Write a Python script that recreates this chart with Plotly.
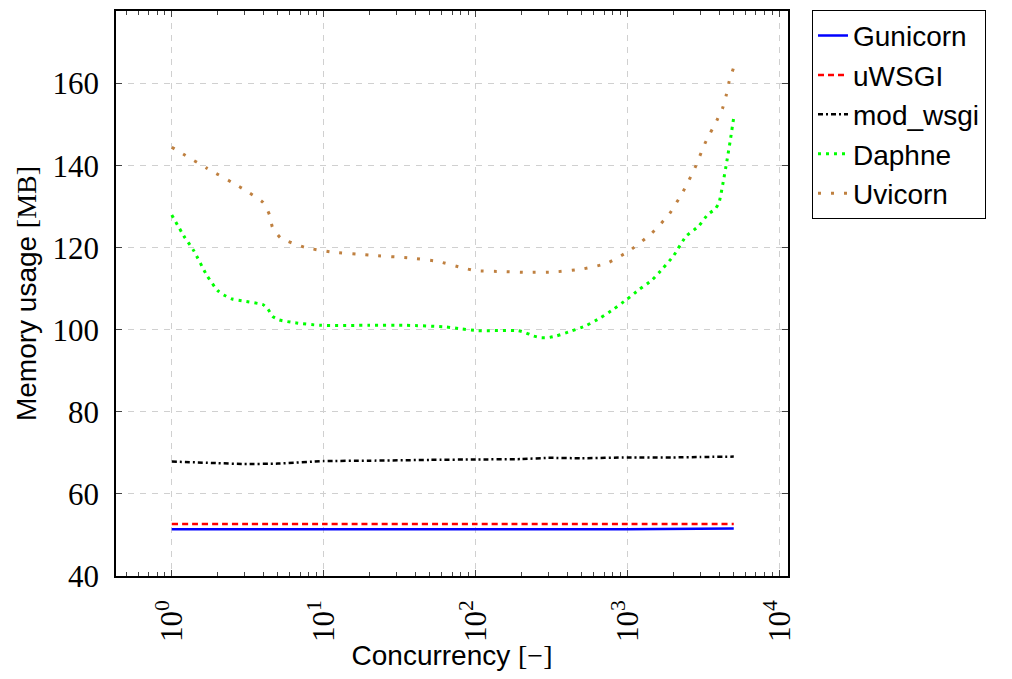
import plotly.graph_objects as go

# ---- data ----
gunicorn_x = [1, 10, 100, 1000, 5000]
gunicorn_y = [51.4, 51.4, 51.4, 51.4, 51.6]

uwsgi_x = [1, 10, 100, 1000, 5000]
uwsgi_y = [52.7, 52.7, 52.7, 52.7, 52.7]

modwsgi_x = [1, 2, 3, 5, 10, 20, 50, 100, 200, 300, 500, 1000, 2000, 3000, 5000]
modwsgi_y = [67.9, 67.5, 67.3, 67.4, 68.0, 68.1, 68.3, 68.4, 68.5, 68.8, 68.7, 68.9, 68.9, 69.0, 69.1]

daphne_x = [1, 1.2, 1.4, 1.7, 2, 2.2, 2.5, 3, 4, 4.3, 4.6, 5.1, 6.5, 9.4, 20, 35, 64, 81,
            103, 190, 213, 240, 268, 300, 340, 427, 533, 661, 807, 988, 1190, 1446, 1700,
            1995, 2427, 2925, 3390, 3750, 4000, 4250, 4500, 4750, 5000]
daphne_y = [128.0, 122.9, 119.2, 113.3, 109.6, 108.5, 107.5, 107.0, 106.1, 105.0, 103.3, 102.4,
            101.7, 101.1, 101.1, 101.1, 100.7, 100.2, 99.8, 99.8, 99.3, 98.5, 98.1, 98.1, 98.5,
            99.7, 101.0, 102.9, 105.0, 107.4, 109.8, 112.1, 114.9, 117.9, 122.8, 125.2, 128.2,
            129.3, 131.0, 135.8, 141.0, 146.3, 151.8]

uvicorn_x = [1, 1.7, 2.9, 4, 4.4, 4.6, 5.2, 7.5, 11, 20, 37, 56, 82, 100, 150, 220, 330, 500,
             730, 1040, 1430, 1880, 2320, 2780, 3240, 3890, 4230, 4470, 4660, 5000]
uvicorn_y = [144.5, 139.4, 134.5, 131.0, 128.0, 125.0, 122.4, 120.1, 119.0, 118.2, 117.5, 116.7,
             115.1, 114.4, 114.2, 114.0, 114.1, 114.8, 116.2, 119.4, 123.4, 128.2, 133.7, 139.5,
             145.5, 151.2, 154.1, 157.3, 160.5, 164.0]

x_tickvals = [1, 10, 100, 1000, 10000]
x_ticktext = ["10<sup>0</sup>", "10<sup>1</sup>", "10<sup>2</sup>", "10<sup>3</sup>", "10<sup>4</sup>"]
y_tickvals = [40, 60, 80, 100, 120, 140, 160]
minor_vals = [m * 10 ** e for e in range(-1, 4) for m in range(2, 10)]

SANS = "Liberation Sans"
SERIF = "Liberation Serif"

fig = go.Figure()
series = [
    ("Gunicorn", gunicorn_x, gunicorn_y, "#0000ff", "solid", 2.5),
    ("uWSGI", uwsgi_x, uwsgi_y, "#ff0000", "6px,4px", 2.5),
    ("mod_wsgi", modwsgi_x, modwsgi_y, "#000000", "5px,3px,2px,3px", 2.5),
    ("Daphne", daphne_x, daphne_y, "#00ff00", "3px,5px", 3),
    ("Uvicorn", uvicorn_x, uvicorn_y, "#bf8040", "3px,10px", 3),
]
for name, xs, ys, col, dash, w in series:
    fig.add_trace(go.Scatter(
        x=xs, y=ys, mode="lines", name=name, legendgroup=name,
        line=dict(color=col, dash=dash, width=w, shape="spline", smoothing=0.5),
    ))

# page body has an 8px margin; size the figure so it fits the window exactly
fig.update_layout(
    width=996, height=663,
    margin=dict(l=108, r=216, t=3, b=95, autoexpand=False),
    paper_bgcolor="white", plot_bgcolor="white",
    showlegend=True,
    legend=dict(
        x=1.0357, y=1.002, xanchor="left", yanchor="top",
        bordercolor="black", borderwidth=1,
        font=dict(family=SANS, size=28, color="black"),
        tracegroupgap=0,
        bgcolor="white",
    ),
)

fig.update_xaxes(
    type="log", range=[-0.367, 4.056], automargin=False,
    tickvals=x_tickvals, ticktext=x_ticktext, tickangle=-90,
    tickfont=dict(family=SERIF, size=31, color="black"),
    ticks="inside", ticklen=6, tickcolor="#444444", tickwidth=1,
    showline=True, linecolor="black", linewidth=1.5, mirror="ticks",
    showgrid=True, gridcolor="#d0d0d0", griddash="6px,6px", gridwidth=1,
    zeroline=False,
    minor=dict(tickvals=minor_vals, ticks="inside", ticklen=4, tickcolor="#444444", showgrid=False),
    ticklabelstandoff=10,
    title=dict(text=f"Concurrency <span style='font-family:{SERIF}'>[\u2212]</span>",
               font=dict(family=SANS, size=28, color="black"), standoff=12),
)
fig.update_yaxes(
    range=[40, 177.7], automargin=False,
    tickvals=y_tickvals,
    tickfont=dict(family=SERIF, size=31, color="black"),
    ticks="inside", ticklen=6, tickcolor="#444444", tickwidth=1,
    showline=True, linecolor="black", linewidth=1.5, mirror="ticks",
    showgrid=True, gridcolor="#d0d0d0", griddash="6px,6px", gridwidth=1,
    zeroline=False,
    ticklabelstandoff=9,
    title=dict(text=f"Memory usage <span style='font-family:{SERIF}'>[MB]</span>",
               font=dict(family=SANS, size=28, color="black"), standoff=8),
)

fig.write_html("out.html")
